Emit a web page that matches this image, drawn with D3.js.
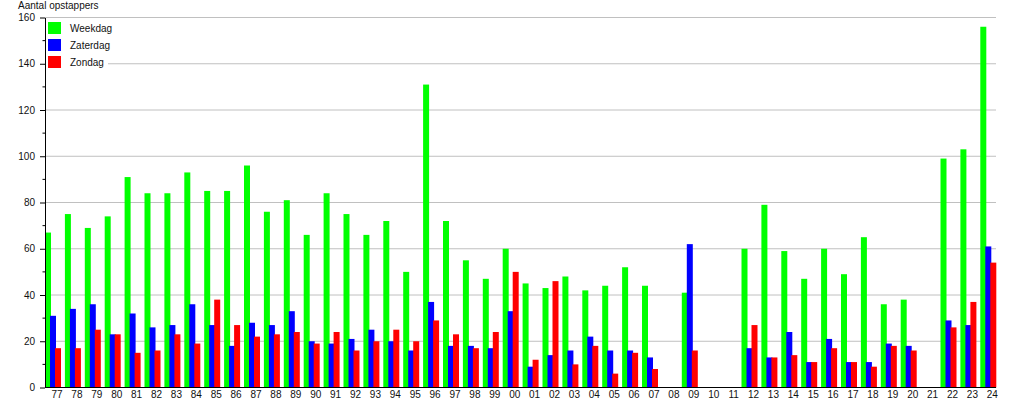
<!DOCTYPE html>
<html lang="nl">
<head>
<meta charset="UTF-8">
<title>Aantal opstappers</title>
<script src="https://cdnjs.cloudflare.com/ajax/libs/d3/7.8.5/d3.min.js"></script>
<style>
  body { margin: 0; background: #fff; }
  text { font-family: "Liberation Sans", Arial, sans-serif; font-size: 10px; fill: #111; }
</style>
</head>
<body>
<div id="chart"></div>
<script>
var w = 1015, h = 400;

// jaren 1977 - 2024
var years = ["77","78","79","80","81","82","83","84","85","86","87","88","89","90","91","92",
  "93","94","95","96","97","98","99","00","01","02","03","04","05","06","07","08",
  "09","10","11","12","13","14","15","16","17","18","19","20","21","22","23","24"];

var weekdag = [67,75,69,74,91,84,84,93,85,85,96,76,81,66,84,75,
  66,72,50,131,72,55,47,60,45,43,48,42,44,52,44,0,
  41,0,0,60,79,59,47,60,49,65,36,38,0,99,103,156];

var zaterdag = [31,34,36,23,32,26,27,36,27,18,28,27,33,20,19,21,
  25,20,16,37,18,18,17,33,9,14,16,22,16,16,13,0,
  62,0,0,17,13,24,11,21,11,11,19,18,0,29,27,61];

var zondag = [17,17,25,23,15,16,23,19,38,27,22,23,24,19,24,16,
  20,25,20,29,23,17,24,50,12,46,10,18,6,15,8,0,
  16,0,0,27,13,14,11,17,11,9,18,16,0,26,37,54];

var seriesNames = ["Weekdag", "Zaterdag", "Zondag"];
var colors = ["#00ff00", "#0000ff", "#ff0000"];
var yTicks = [0, 20, 40, 60, 80, 100, 120, 140, 160];

// note: "top" is a reserved window property, so use plotTop/plotBottom
var plotLeft = 45, plotRight = 996, plotTop = 17.5, plotBottom = 387.5;

var svg = d3.select("#chart").append("svg")
  .attr("width", w).attr("height", h);

var x = d3.scaleBand().domain(years).range([plotLeft, plotLeft + years.length * 19.9]);
var xs = d3.scaleBand().domain(seriesNames).range([0, 15]);
var y = d3.scaleLinear().domain([0, 160]).range([plotBottom, plotTop]);

// gridlines
svg.append("g").selectAll("line")
  .data(yTicks.filter(function (d) { return d > 0; }))
  .enter().append("line")
  .attr("x1", plotLeft).attr("x2", plotRight)
  .attr("y1", function (d) { return y(d); })
  .attr("y2", function (d) { return y(d); })
  .attr("stroke", "#c0c0c0").attr("stroke-width", 1);

// bars, per serie
var data = [weekdag, zaterdag, zondag];
seriesNames.forEach(function (name, s) {
  svg.append("g").selectAll("rect")
    .data(data[s])
    .enter().append("rect")
    .attr("x", function (d, i) { return x(years[i]) + xs(name); })
    .attr("y", function (d) { return y(d); })
    .attr("width", 6)
    .attr("height", function (d) { return plotBottom - y(d); })
    .attr("fill", colors[s]);
});

// y axis with minor ticks
var yAxis = svg.append("g").attr("transform", "translate(" + plotLeft + ",0)")
  .call(d3.axisLeft(y).tickValues(yTicks).tickSize(5).tickPadding(5).tickSizeOuter(0));
yAxis.select(".domain").attr("stroke", "#000");
yAxis.selectAll("text").style("font-size", "10px").attr("font-family", null);
svg.append("g").selectAll("line")
  .data(d3.range(10, 160, 20))
  .enter().append("line")
  .attr("x1", plotLeft - 2.5).attr("x2", plotLeft)
  .attr("y1", function (d) { return y(d); })
  .attr("y2", function (d) { return y(d); })
  .attr("stroke", "#000");

// x axis
svg.append("line")
  .attr("x1", plotLeft).attr("x2", plotRight)
  .attr("y1", plotBottom).attr("y2", plotBottom)
  .attr("stroke", "#000");
svg.append("g").selectAll("text")
  .data(years)
  .enter().append("text")
  .attr("x", function (d) { return x(d) + 12; })
  .attr("y", 398)
  .attr("text-anchor", "middle")
  .text(function (d) { return d; });

// axis title
svg.append("text").attr("x", 18).attr("y", 9).text("Aantal opstappers");

// legend
var legend = svg.append("g");
legend.append("rect").attr("x", 46).attr("y", 18).attr("width", 62).attr("height", 54).attr("fill", "#fff");
seriesNames.forEach(function (name, s) {
  legend.append("rect")
    .attr("x", 48).attr("y", 22 + s * 17)
    .attr("width", 13).attr("height", 12)
    .attr("fill", colors[s]);
  legend.append("text")
    .attr("x", 70).attr("y", 28 + s * 17)
    .attr("dy", "0.35em")
    .text(name);
});
</script>
</body>
</html>
